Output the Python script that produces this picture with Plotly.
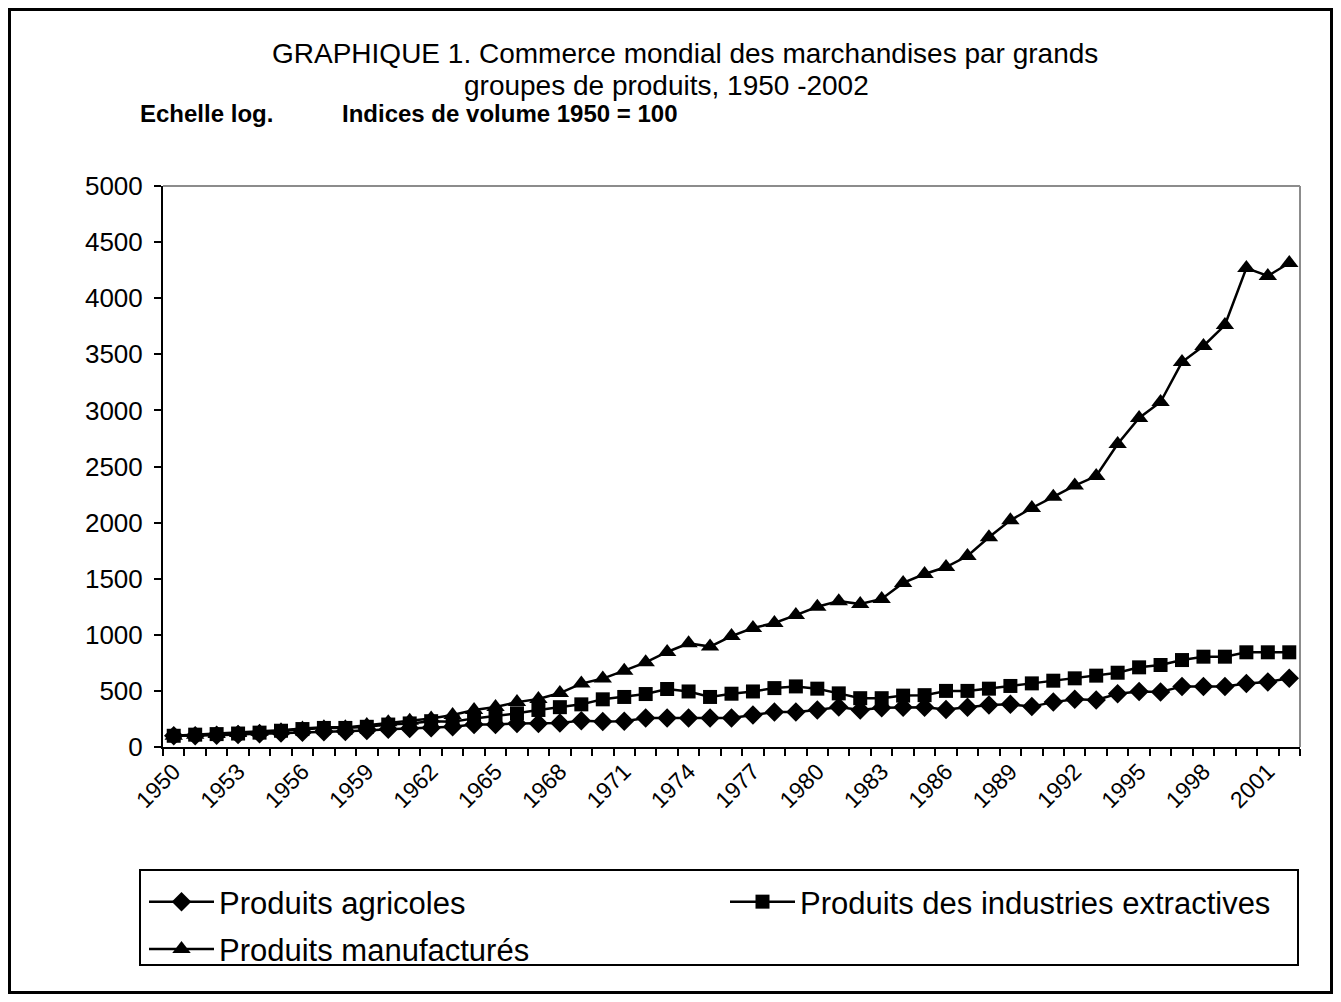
import plotly.graph_objects as go

# ---------------- data ----------------
years = list(range(1950, 2003))
label_years = [1950, 1953, 1956, 1959, 1962, 1965, 1968, 1971, 1974, 1977,
               1980, 1983, 1986, 1989, 1992, 1995, 1998, 2001]

agricoles = [100, 100, 105, 112, 118, 125, 132, 135, 138, 148, 158, 165, 172,
             180, 200, 200, 210, 210, 215,
             235, 228, 230, 258, 258, 258, 258, 258, 285, 312, 312, 330, 357,
             330, 350, 355, 355, 335, 355, 375, 380, 360, 400, 425, 420, 475,
             495, 490, 540, 540, 540, 565, 580, 612]

extractives = [100, 110, 115, 120, 128, 145, 160, 170, 170, 180, 200, 210, 230,
               225, 255, 275, 300, 330, 355,
               380, 425, 446, 472, 517, 495, 446, 475, 495, 525, 540, 520, 478,
               435, 435, 458, 462, 500, 500, 520, 544, 567, 591, 612, 636, 662,
               710, 731, 775, 805, 805, 844, 844, 844]

manufactures = [100, 110, 115, 125, 135, 150, 165, 175, 175, 195, 220, 235, 255,
                285, 330, 357, 400, 428, 481,
                565, 610, 680, 755, 847, 925, 895, 989, 1061, 1105, 1176, 1250,
                1300, 1274, 1320, 1462, 1542, 1604, 1702, 1870, 2020, 2130, 2230,
                2330, 2415, 2700, 2932, 3075, 3431, 3574, 3761, 4269, 4198, 4314]

series_names = ["Produits agricoles", "Produits des industries extractives",
                "Produits manufacturés"]

# ---------------- layout geometry (figure pixels; page adds 8px body margin) ----
W, H = 1325, 986
ML, MR, MT, MB = 155, 33, 178, 247
PW = W - ML - MR
PH = H - MT - MB


def px(x):
    return (x - ML) / PW


def py(y):
    return (MT + PH - y) / PH


FONT = "Liberation Sans, Arial, Helvetica, sans-serif"

fig = go.Figure()
symbols = ["diamond", "square", "triangle-up"]
sizes = [15, 14, 16]
legends = ["legend", "legend2", "legend"]
for i, (name, vals, sym, sz, lg) in enumerate(zip(
        series_names, [agricoles, extractives, manufactures], symbols, sizes, legends)):
    fig.add_trace(go.Scatter(
        x=years, y=vals, name=name, mode="lines+markers",
        line=dict(color="black", width=2.5),
        marker=dict(symbol=sym, size=sz, color="black", line=dict(width=0)),
        legend=lg, legendgroup="g%d" % i,
    ))

legend_common = dict(
    orientation="v", xanchor="left", yanchor="top", y=py(867),
    font=dict(size=31, family=FONT, color="black"),
    bgcolor="rgba(0,0,0,0)", borderwidth=0, itemwidth=65,
    tracegroupgap=4, traceorder="grouped",
)

fig.update_layout(
    width=W, height=H,
    margin=dict(l=ML, r=MR, t=MT, b=MB, pad=0, autoexpand=False),
    paper_bgcolor="white", plot_bgcolor="white",
    font=dict(family=FONT, color="black"),
    showlegend=True,
    legend=dict(x=px(136), **legend_common),
    legend2=dict(x=px(717), **legend_common),
    xaxis=dict(
        range=[1949.5, 2002.5], showgrid=False, zeroline=False,
        showline=True, linecolor="black", linewidth=2,
        tickmode="array", tickvals=label_years,
        ticktext=[str(v) for v in label_years],
        ticks="", tickangle=-45,
        tickfont=dict(size=23, family=FONT, color="black"),
        ticklabelstandoff=0,
        minor=dict(tickmode="linear", tick0=1949.5, dtick=1, ticks="outside",
                   ticklen=7, tickwidth=2, tickcolor="black", showgrid=False),
    ),
    yaxis=dict(
        range=[0, 5000], dtick=500, tick0=0, showgrid=False, zeroline=False,
        showline=True, linecolor="black", linewidth=2,
        ticks="outside", ticklen=7, tickwidth=2, tickcolor="black",
        tickfont=dict(size=26, family=FONT, color="black"),
        ticklabelstandoff=6,
    ),
)

shapes = []
# grey top and right frame of plot area
shapes.append(dict(type="line", xref="paper", yref="paper", x0=0, x1=1, y0=1, y1=1,
                   line=dict(color="#8c8c8c", width=2)))
shapes.append(dict(type="line", xref="paper", yref="paper", x0=1, x1=1, y0=0, y1=1,
                   line=dict(color="#8c8c8c", width=2)))
# outer border of the chart
shapes.append(dict(type="rect", xref="paper", yref="paper",
                   x0=px(1.5), x1=px(W - 1.5), y0=py(H - 1.5), y1=py(1.5),
                   line=dict(color="black", width=3), fillcolor="rgba(0,0,0,0)"))
# legend frame
shapes.append(dict(type="rect", xref="paper", yref="paper",
                   x0=px(132), x1=px(1290), y0=py(957), y1=py(862),
                   line=dict(color="black", width=2), fillcolor="rgba(0,0,0,0)"))
fig.update_layout(shapes=shapes)

annotations = [
    dict(text="GRAPHIQUE 1. Commerce mondial des marchandises par grands",
         x=px(677), y=py(45), xanchor="center", yanchor="middle",
         font=dict(size=28, family=FONT, color="black")),
    dict(text="groupes de produits, 1950 -2002",
         x=px(658), y=py(77), xanchor="center", yanchor="middle",
         font=dict(size=28, family=FONT, color="black")),
    dict(text="<b>Echelle log.</b>",
         x=px(130), y=py(106), xanchor="left", yanchor="middle",
         font=dict(size=24, family=FONT, color="black")),
    dict(text="<b>Indices de volume 1950 = 100</b>",
         x=px(332), y=py(106), xanchor="left", yanchor="middle",
         font=dict(size=24, family=FONT, color="black")),
]
for a in annotations:
    a.update(xref="paper", yref="paper", showarrow=False)
fig.update_layout(annotations=annotations)

fig.write_html("out.html")
